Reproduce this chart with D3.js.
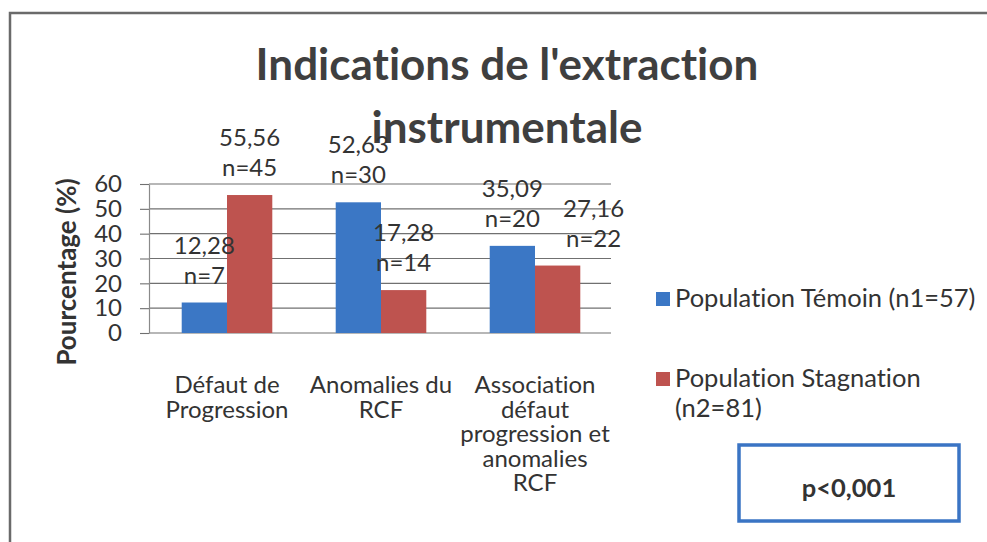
<!DOCTYPE html>
<html><head><meta charset="utf-8">
<script src="https://cdn.jsdelivr.net/npm/d3@7"></script>
<style>
html,body{margin:0;padding:0;background:#fff;}
svg{display:block;}
svg text{font-variant-ligatures:none;font-feature-settings:"liga" 0,"clig" 0;}
</style>
</head><body>
<svg id="chart" width="987" height="542"></svg>
<script>
// ---- data ----
const titleLines = ["Indications de l'extraction", "instrumentale"];
const categories = ["Défaut de Progression", "Anomalies du RCF", "Association défaut progression et anomalies RCF"];
const categoryLines = [
  ["Défaut de", "Progression"],
  ["Anomalies du", "RCF"],
  ["Association", "défaut", "progression et", "anomalies", "RCF"]
];
const seriesNames = ["Population Témoin (n1=57)", "Population Stagnation (n2=81)"];
const legendLines = [["Population Témoin (n1=57)"], ["Population Stagnation", "(n2=81)"]];
const temoinValues = [12.28, 52.63, 35.09];
const temoinCounts = [7, 30, 20];
const stagnationValues = [55.56, 17.28, 27.16];
const stagnationCounts = [45, 14, 22];
const yTicks = [0, 10, 20, 30, 40, 50, 60];
const yAxisTitle = "Pourcentage (%)";
const pValueText = "p<0,001";

// ---- style ----
const FONT = "Lato, 'Open Sans', sans-serif";
const colors = ["#3b77c5", "#be534f"];
const textColor = "#333";
// manual label nudges (category index - series index -> x shift), as in the original layout
const labelNudge = {"2-1": 36};

const svg = d3.select("#chart");
const fr = d3.formatLocale({decimal: ",", thousands: " ", grouping: [3], currency: ["", ""]});
const fmt = fr.format(".2f");

// outer frame (only top and left edges visible)
svg.append("path")
  .attr("d", "M10,545 V13 H990")
  .attr("fill", "none").attr("stroke", "#6a6a6a").attr("stroke-width", 2.5);

// title
svg.append("text")
  .attr("x", 507).attr("y", 80)
  .attr("text-anchor", "middle")
  .attr("font-family", FONT).attr("font-weight", "bold").attr("font-size", 44)
  .attr("fill", "#3f3f3f")
  .selectAll("tspan").data(titleLines).join("tspan")
  .attr("x", 507).attr("dy", (d, i) => i === 0 ? 0 : 63)
  .text(d => d);

// scales
const plotLeft = 149, plotRight = 611, plotBottom = 333, plotTop = 184;
const x0 = d3.scaleBand().domain(d3.range(categories.length)).range([plotLeft + 1, plotRight + 1]);
const x1 = d3.scaleBand().domain(d3.range(seriesNames.length)).range([0, x0.bandwidth()]).paddingOuter(0.7).paddingInner(0);
const y = d3.scaleLinear().domain([0, 60]).range([plotBottom, plotTop]);

// gridlines
svg.append("g").selectAll("line").data(yTicks).join("line")
  .attr("x1", plotLeft).attr("x2", plotRight)
  .attr("y1", d => y(d)).attr("y2", d => y(d))
  .attr("stroke", "#707070").attr("stroke-width", 1.1);

// y axis
const yAxis = svg.append("g").attr("transform", `translate(${plotLeft},0)`)
  .call(d3.axisLeft(y).tickValues(yTicks).tickSizeInner(9).tickSizeOuter(0).tickPadding(18));
yAxis.select(".domain").attr("stroke", "#8a8a8a").attr("stroke-width", 1.2);
yAxis.selectAll(".tick line").attr("stroke", "#707070").attr("stroke-width", 1.1);
yAxis.selectAll(".tick text").attr("font-family", FONT).attr("font-size", 24).attr("fill", textColor);

// y axis title
svg.append("text")
  .attr("transform", "translate(76,272) rotate(-90)")
  .attr("text-anchor", "middle")
  .attr("font-family", FONT).attr("font-weight", "bold").attr("font-size", 26)
  .attr("fill", textColor).text(yAxisTitle);

// bars
const seriesValues = [temoinValues, stagnationValues];
const seriesCounts = [temoinCounts, stagnationCounts];
const barData = [];
categories.forEach((c, ci) => {
  seriesValues.forEach((vals, si) => {
    barData.push({ci, si, v: vals[ci], n: seriesCounts[si][ci]});
  });
});
svg.append("g").selectAll("rect").data(barData).join("rect")
  .attr("x", d => x0(d.ci) + x1(d.si))
  .attr("width", x1.bandwidth())
  .attr("y", d => y(d.v))
  .attr("height", d => y(0) - y(d.v))
  .attr("fill", d => colors[d.si]);

// data labels
const labelX = d => x0(d.ci) + x1(d.si) + x1.bandwidth() / 2 + (labelNudge[d.ci + "-" + d.si] || 0);
const lbl = svg.append("g").selectAll("text").data(barData).join("text")
  .attr("text-anchor", "middle")
  .attr("font-family", FONT).attr("font-size", 24).attr("fill", textColor);
lbl.append("tspan")
  .attr("x", labelX)
  .attr("y", d => y(d.v) - 49)
  .text(d => fmt(d.v));
lbl.append("tspan")
  .attr("x", labelX)
  .attr("y", d => y(d.v) - 19)
  .text(d => "n=" + d.n);

// category labels
svg.append("g").selectAll("text").data(categoryLines).join("text")
  .attr("text-anchor", "middle")
  .attr("font-family", FONT).attr("font-size", 24).attr("fill", textColor)
  .each(function(lines, i) {
    const cx = x0(i) + x0.bandwidth() / 2;
    d3.select(this).selectAll("tspan").data(lines).join("tspan")
      .attr("x", cx).attr("y", (d, j) => 393 + j * 24.5).text(d => d);
  });

// legend
const legendY = [292, 372];
const leg = svg.append("g").selectAll("g").data(seriesNames).join("g");
leg.append("rect")
  .attr("x", 656).attr("y", (d, i) => legendY[i])
  .attr("width", 14).attr("height", 14)
  .attr("fill", (d, i) => colors[i]);
leg.append("text")
  .attr("font-family", FONT).attr("font-size", 25.5).attr("fill", textColor)
  .each(function(d, i) {
    d3.select(this).selectAll("tspan").data(legendLines[i]).join("tspan")
      .attr("x", 675).attr("y", (t, j) => legendY[i] + 15 + j * 30).text(t => t);
  });

// p-value box
svg.append("rect")
  .attr("x", 739).attr("y", 445).attr("width", 220).attr("height", 76)
  .attr("fill", "#fff").attr("stroke", "#3a74c4").attr("stroke-width", 3.5);
svg.append("text")
  .attr("x", 849).attr("y", 497)
  .attr("text-anchor", "middle")
  .attr("font-family", FONT).attr("font-weight", "bold").attr("font-size", 25.5)
  .attr("fill", textColor).text(pValueText);
</script>
</body></html>
